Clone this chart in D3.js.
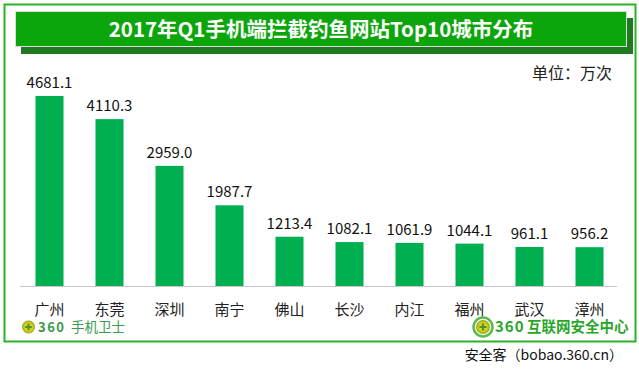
<!DOCTYPE html>
<html>
<head>
<meta charset="utf-8">
<script src="https://cdn.jsdelivr.net/npm/d3@7"></script>
<style>
	body { margin: 0; background: #fff; }
	svg { display: block; font-family: 'Microsoft YaHei', 'Noto Sans CJK SC', sans-serif; }
</style>
</head>
<body>
<div id="chart"></div>
<script>
var chartTitle = '2017年Q1手机端拦截钓鱼网站Top10城市分布';
var unitLabel = '单位：万次';
var cities = ['广州', '东莞', '深圳', '南宁', '佛山', '长沙', '内江', '福州', '武汉', '漳州'];
var counts = [4681.1, 4110.3, 2959.0, 1987.7, 1213.4, 1082.1, 1061.9, 1044.1, 961.1, 956.2];
var sourceLabel = '安全客（bobao.360.cn）';

var width = 639, height = 372;

var svg = d3.select('#chart')
	.append('svg')
	.attr('width', width)
	.attr('height', height);

// outer frame
svg.append('rect')
	.attr('x', 4.5)
	.attr('y', 4.5)
	.attr('width', 631)
	.attr('height', 337)
	.style('fill', 'none')
	.style('stroke', '#2bb12b')
	.style('stroke-width', 2);

// title banner with shadow
svg.append('rect')
	.attr('x', 21)
	.attr('y', 18)
	.attr('width', 612)
	.attr('height', 36)
	.style('fill', '#1f7a1f');
svg.append('rect')
	.attr('x', 15.5)
	.attr('y', 11.5)
	.attr('width', 611)
	.attr('height', 35)
	.style('fill', '#0ca60c')
	.style('stroke', '#dcdcdc')
	.style('stroke-width', 1);
svg.append('text')
	.attr('x', 321)
	.attr('y', 36.5)
	.attr('text-anchor', 'middle')
	.style('fill', '#fff')
	.style('font-size', '20.5px')
	.style('font-weight', 'bold')
	.text(chartTitle);

svg.append('text')
	.attr('x', 612)
	.attr('y', 79)
	.attr('text-anchor', 'end')
	.style('fill', '#222')
	.style('font-size', '16px')
	.text(unitLabel);

// scales
var x = d3.scaleBand()
	.domain(cities)
	.range([19.5, 619.5])
	.paddingInner(0.533)
	.paddingOuter(0.2665);

var y = d3.scaleLinear()
	.domain([0, 5000])
	.range([286, 83]);

var g = svg.append('g');

g.selectAll('.bar')
	.data(counts)
	.enter()
	.append('rect')
	.attr('class', 'bar')
	.attr('x', function (d, i) { return x(cities[i]); })
	.attr('y', function (d) { return y(d); })
	.attr('width', x.bandwidth())
	.attr('height', function (d) { return y(0) - y(d); })
	.style('fill', '#00b050');

g.selectAll('.value')
	.data(counts)
	.enter()
	.append('text')
	.attr('class', 'value')
	.attr('x', function (d, i) { return x(cities[i]) + x.bandwidth() / 2; })
	.attr('y', function (d) { return y(d) - 8; })
	.attr('text-anchor', 'middle')
	.style('fill', '#111')
	.style('font-size', '15px')
	.text(function (d) { return d3.format('.1f')(d); });

// category axis
var axis = svg.append('g')
	.attr('transform', 'translate(0,' + y(0) + ')')
	.call(d3.axisBottom(x).tickSize(0).tickPadding(18));
axis.select('.domain')
	.attr('d', 'M20,0.5H617')
	.style('stroke', '#c8c8c8');
axis.selectAll('.tick text')
	.style('font-family', "'Microsoft YaHei', 'Noto Sans CJK SC', sans-serif")
	.style('font-size', '15px')
	.style('fill', '#222');

// logos
var grad = svg.append('defs').append('radialGradient')
	.attr('id', 'logoGrad');
grad.append('stop').attr('offset', '0%').attr('stop-color', '#f4e21c');
grad.append('stop').attr('offset', '70%').attr('stop-color', '#d6c414');
grad.append('stop').attr('offset', '100%').attr('stop-color', '#7aa82a');

function logo(cx, cy, r, ring) {
	if (ring) {
		svg.append('circle')
			.attr('cx', cx).attr('cy', cy).attr('r', r + 2.5)
			.style('fill', 'none')
			.style('stroke', '#5cb84a')
			.style('stroke-width', 2.5);
	}
	svg.append('circle')
		.attr('cx', cx).attr('cy', cy).attr('r', r)
		.style('fill', 'url(#logoGrad)');
	svg.append('path')
		.attr('d', 'M' + (cx - r * 0.5) + ',' + cy + 'H' + (cx + r * 0.5) + 'M' + cx + ',' + (cy - r * 0.5) + 'V' + (cy + r * 0.5))
		.style('stroke', '#3d9a2e')
		.style('stroke-width', 2);
}

logo(28.5, 327, 6.5, false);
svg.append('text')
	.attr('x', 38)
	.attr('y', 332)
	.style('fill', '#3a9a4a')
	.style('font-size', '13px')
	.style('font-weight', 'bold')
	.style('letter-spacing', '1.5px')
	.text('360');
svg.append('text')
	.attr('x', 71)
	.attr('y', 332)
	.style('fill', '#3a9a4a')
	.style('font-size', '13.5px')
	.text('手机卫士');

logo(483, 327, 7, true);
svg.append('text')
	.attr('x', 495)
	.attr('y', 332)
	.style('fill', '#2aa52a')
	.style('font-size', '15px')
	.style('font-weight', 'bold')
	.style('letter-spacing', '1px')
	.text('360');
svg.append('text')
	.attr('x', 527)
	.attr('y', 332)
	.style('fill', '#2aa52a')
	.style('font-size', '14.5px')
	.style('font-weight', 'bold')
	.text('互联网安全中心');

svg.append('text')
	.attr('x', 623)
	.attr('y', 360)
	.attr('text-anchor', 'end')
	.style('fill', '#111')
	.style('font-size', '14px')
	.text(sourceLabel);
</script>
</body>
</html>
